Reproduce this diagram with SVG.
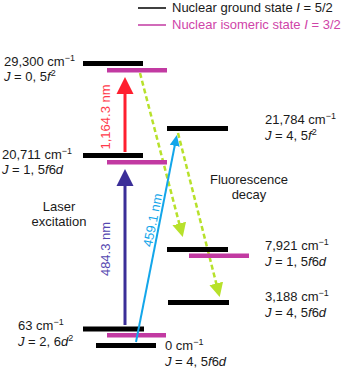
<svg xmlns="http://www.w3.org/2000/svg" width="350" height="369" viewBox="0 0 350 369">
<style>
text{font-family:"Liberation Sans",Arial,sans-serif;font-size:13px;fill:#1a1a1a}
.i{font-style:italic}
.sup{font-size:9px}
.gb{fill:#000}
.ib{fill:#c23aa2}
.dash{stroke:#b7e12b;stroke-width:2.5;stroke-dasharray:5,3;fill:none}
</style>
<defs>
<marker id="hRed" markerUnits="userSpaceOnUse" markerWidth="18" markerHeight="18" viewBox="0 -9 18 18" refX="1" refY="0" orient="auto"><path d="M0,-8.5 L17,0 L0,8.5 Z" fill="#ff1f2f"/></marker>
<marker id="hInd" markerUnits="userSpaceOnUse" markerWidth="18" markerHeight="18" viewBox="0 -9 18 18" refX="1" refY="0" orient="auto"><path d="M0,-8.5 L17,0 L0,8.5 Z" fill="#3b2e98"/></marker>
<marker id="hBlue" markerUnits="userSpaceOnUse" markerWidth="12" markerHeight="12" viewBox="0 -6 12 12" refX="1" refY="0" orient="auto"><path d="M0,-5 L11,0 L0,5 Z" fill="#13a6ea"/></marker>
<marker id="hGreen" markerUnits="userSpaceOnUse" markerWidth="16" markerHeight="16" viewBox="0 -8 16 16" refX="1" refY="0" orient="auto"><path d="M0,-7 L14,0 L0,7 Z" fill="#b7e12b"/></marker>
</defs>
<rect width="350" height="369" fill="#fff"/>

<g id="legend">
<line x1="138" y1="8" x2="166" y2="8" stroke="#000" stroke-width="1.5"/>
<text x="172" y="12">Nuclear ground state <tspan class="i">I</tspan> = 5/2</text>
<line x1="138" y1="25" x2="166" y2="25" stroke="#c23aa2" stroke-width="1.5"/>
<text x="172" y="29" style="fill:#cf44a8">Nuclear isomeric state <tspan class="i">I</tspan> = 3/2</text>
</g>

<g id="connectors-dashed">
<line class="dash" x1="140" y1="73" x2="179.5" y2="224.5" marker-end="url(#hGreen)"/>
<line class="dash" x1="178" y1="133" x2="216.5" y2="284.4" marker-end="url(#hGreen)"/>
</g>

<g id="level-29300">
<rect class="gb" x="83" y="61" width="60" height="5"/>
<rect class="ib" x="107" y="68" width="60" height="4.5"/>
<text x="4" y="66">29,300 cm<tspan class="sup" dy="-5">−1</tspan></text>
<text x="4" y="81"><tspan class="i">J</tspan> = 0, 5<tspan class="i">f</tspan><tspan class="sup" dy="-5">2</tspan></text>
</g>
<g id="level-21784">
<rect class="gb" x="167" y="126" width="61" height="5"/>
<text x="265" y="124">21,784 cm<tspan class="sup" dy="-5">−1</tspan></text>
<text x="265" y="140"><tspan class="i">J</tspan> = 4,  5<tspan class="i">f</tspan><tspan class="sup" dy="-5">2</tspan></text>
</g>
<g id="level-20711">
<rect class="gb" x="83" y="153" width="60" height="5"/>
<rect class="ib" x="107" y="160" width="60" height="4.5"/>
<text x="2" y="159">20,711 cm<tspan class="sup" dy="-5">−1</tspan></text>
<text x="2" y="174"><tspan class="i">J</tspan> = 1, 5<tspan class="i">f</tspan>6<tspan class="i">d</tspan></text>
</g>
<g id="level-7921">
<rect class="gb" x="167" y="247" width="61" height="5"/>
<rect class="ib" x="189" y="253.5" width="60" height="4.5"/>
<text x="265" y="250">7,921 cm<tspan class="sup" dy="-5">−1</tspan></text>
<text x="265" y="266"><tspan class="i">J</tspan> = 1, 5<tspan class="i">f</tspan>6<tspan class="i">d</tspan></text>
</g>
<g id="level-3188">
<rect class="gb" x="168" y="300" width="61" height="5"/>
<text x="265" y="301">3,188 cm<tspan class="sup" dy="-5">−1</tspan></text>
<text x="265" y="317"><tspan class="i">J</tspan> = 4, 5<tspan class="i">f</tspan>6<tspan class="i">d</tspan></text>
</g>
<g id="level-63">
<rect class="gb" x="83" y="326.5" width="61" height="5"/>
<rect class="ib" x="107" y="333" width="59" height="4.5"/>
<text x="18" y="330">63 cm<tspan class="sup" dy="-5">−1</tspan></text>
<text x="18" y="346"><tspan class="i">J</tspan> = 2, 6<tspan class="i">d</tspan><tspan class="sup" dy="-5">2</tspan></text>
</g>
<g id="level-0">
<rect class="gb" x="96" y="343" width="60" height="5"/>
<text x="165" y="350">0 cm<tspan class="sup" dy="-5">−1</tspan></text>
<text x="165" y="366"><tspan class="i">J</tspan> = 4, 5<tspan class="i">f</tspan>6<tspan class="i">d</tspan></text>
</g>

<g id="connectors">
<line x1="125" y1="152" x2="125" y2="93" stroke="#ff1f2f" stroke-width="3" marker-end="url(#hRed)"/>
<line x1="125" y1="325" x2="125" y2="185" stroke="#3b2e98" stroke-width="3" marker-end="url(#hInd)"/>
<line x1="136" y1="342" x2="174.9" y2="144.8" stroke="#13a6ea" stroke-width="2" marker-end="url(#hBlue)"/>
</g>

<g id="labels">
<text transform="translate(110,117) rotate(-90)" text-anchor="middle" style="fill:#ff3a4a">1,164.3 nm</text>
<text transform="translate(110,249) rotate(-90)" text-anchor="middle" style="fill:#5547b0">484.3 nm</text>
<text transform="translate(157,221) rotate(-78.7)" text-anchor="middle" style="fill:#13a6ea">459.1 nm</text>
<text x="59" y="211" text-anchor="middle">Laser</text>
<text x="59" y="226" text-anchor="middle">excitation</text>
<text x="249" y="184" text-anchor="middle">Fluorescence</text>
<text x="249" y="199" text-anchor="middle">decay</text>
</g>
</svg>
